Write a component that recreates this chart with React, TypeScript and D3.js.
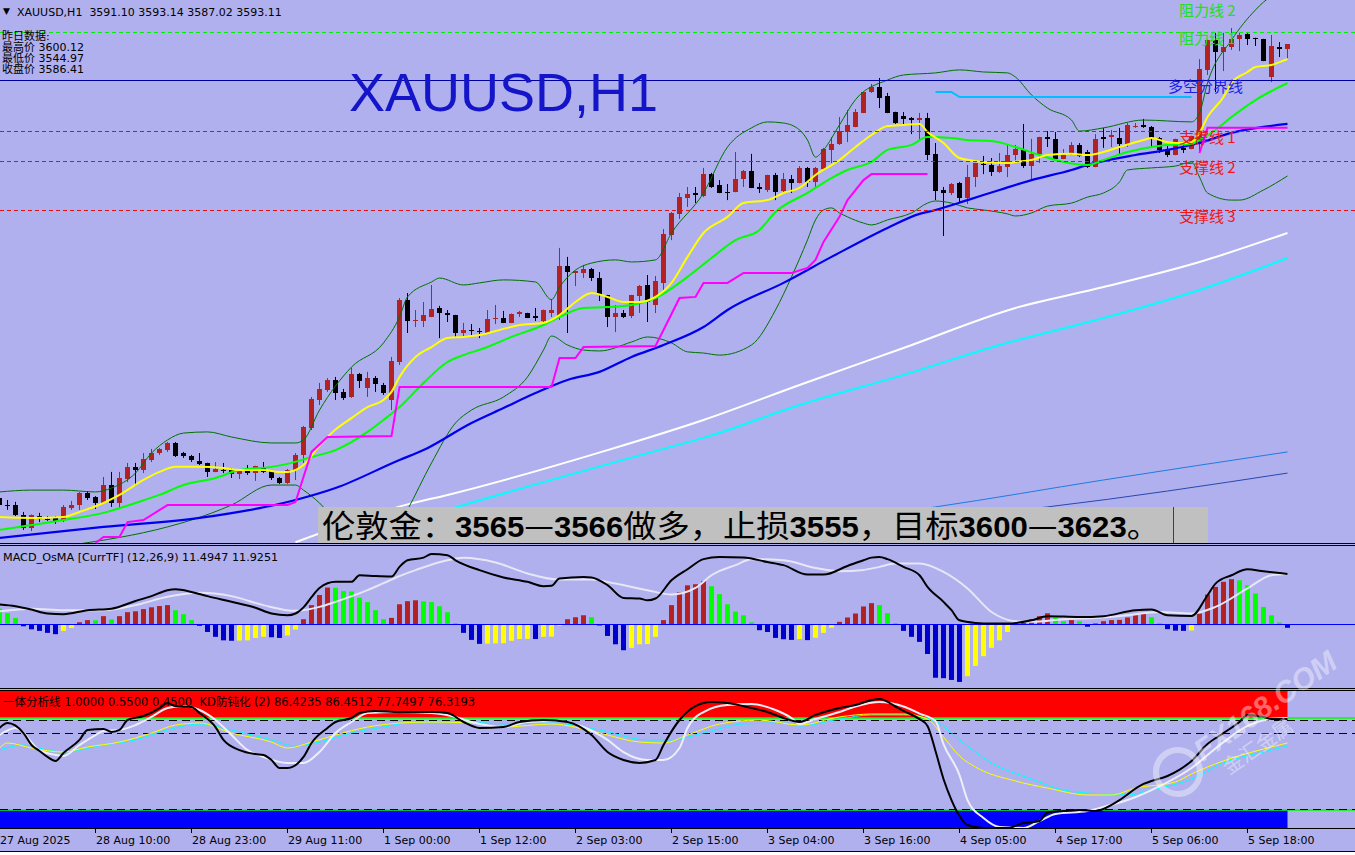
import React from "react";
import * as d3 from "d3";

type Pt = [number, number];

// ---------------- DATA ----------------
const SYMBOL = "XAUUSD,H1";
const LAST_OHLC = ["3591.10", "3593.14", "3587.02", "3593.11"];
const PREV_DAY_TITLE = "昨日数据:";
const PREV_DAY_LABELS = ["最高价", "最低价", "收盘价"];
const PREV_DAY_VALUES = ["3600.12", "3544.97", "3586.41"];

const TICK_BARS = [0, 12, 24, 36, 48, 60, 72, 84, 96, 108, 120, 132, 144, 156];
const TICK_LABELS = [
  "27 Aug 2025", "28 Aug 10:00", "28 Aug 23:00", "29 Aug 11:00", "1 Sep 00:00", "1 Sep 12:00",
  "2 Sep 03:00", "2 Sep 15:00", "3 Sep 04:00", "3 Sep 16:00", "4 Sep 05:00", "4 Sep 17:00",
  "5 Sep 06:00", "5 Sep 18:00",
];

const openP = [
  3395.8, 3392.7, 3392.7, 3388.4, 3382.7, 3387.9, 3386.6, 3387.1, 3386.2, 3391.4,
  3392.7, 3397.9, 3396.2, 3393.6, 3401.4, 3393.6, 3404.0, 3409.3, 3407.9, 3412.3,
  3415.3, 3416.6, 3419.7, 3415.3, 3414.0, 3411.9, 3411.0, 3407.1, 3407.9, 3407.9,
  3406.2, 3407.5, 3406.6, 3409.3, 3407.5, 3404.5, 3402.3, 3407.9, 3414.5, 3426.2,
  3438.4, 3442.7, 3447.1, 3441.9, 3439.7, 3449.7, 3443.6, 3447.9, 3444.9, 3438.4,
  3454.9, 3481.9, 3472.7, 3472.7, 3474.5, 3478.4, 3476.2, 3475.3, 3467.5, 3468.8,
  3468.4, 3467.5, 3473.6, 3474.0, 3471.9, 3475.8, 3476.2, 3474.9, 3472.7, 3476.2,
  3474.5, 3496.6, 3493.6, 3493.6, 3495.3, 3491.4, 3484.0, 3474.5, 3476.2, 3474.9,
  3483.6, 3488.4, 3479.7, 3489.3, 3510.1, 3519.3, 3526.2, 3528.4, 3527.1, 3536.6,
  3531.9, 3528.8, 3528.8, 3534.5, 3537.9, 3531.0, 3529.7, 3536.2, 3529.3, 3534.5,
  3532.7, 3539.3, 3533.2, 3538.8, 3547.1, 3549.7, 3554.9, 3557.1, 3563.2, 3572.3,
  3574.5, 3570.6, 3563.6, 3561.9, 3561.0, 3560.1, 3561.0, 3545.4, 3529.7, 3528.4,
  3532.7, 3526.2, 3535.3, 3541.0, 3540.6, 3537.5, 3539.7, 3544.9, 3547.1, 3540.1,
  3545.4, 3552.7, 3551.9, 3543.2, 3545.4, 3549.3, 3546.2, 3539.7, 3552.7, 3552.7,
  3552.3, 3549.7, 3557.3, 3558.0, 3557.1, 3552.3, 3547.5, 3544.9, 3548.0, 3547.5,
  3549.7, 3581.9, 3594.9, 3589.7, 3591.9, 3595.3, 3597.5, 3595.8, 3595.3, 3578.8,
  3591.9, 3591.1,
];
const highP = [
  3397.1, 3394.9, 3394.1, 3389.7, 3388.6, 3389.3, 3387.9, 3387.9, 3392.7, 3394.5,
  3398.4, 3398.8, 3396.6, 3404.9, 3407.1, 3407.1, 3411.0, 3411.0, 3415.3, 3417.1,
  3417.5, 3420.1, 3420.1, 3415.8, 3414.5, 3415.3, 3411.1, 3411.4, 3411.0, 3408.8,
  3407.9, 3410.1, 3409.8, 3411.4, 3407.9, 3404.9, 3408.4, 3415.3, 3427.1, 3439.7,
  3445.8, 3447.9, 3448.4, 3443.2, 3452.3, 3450.1, 3450.6, 3448.8, 3445.8, 3457.1,
  3482.7, 3484.9, 3477.5, 3481.0, 3488.4, 3479.3, 3477.5, 3475.4, 3471.9, 3471.4,
  3469.7, 3477.5, 3479.7, 3477.1, 3476.0, 3477.1, 3476.3, 3478.4, 3477.7, 3482.3,
  3504.5, 3500.6, 3494.6, 3497.1, 3495.8, 3494.0, 3484.1, 3479.7, 3477.5, 3484.1,
  3488.4, 3492.7, 3492.3, 3512.7, 3520.1, 3528.4, 3531.0, 3531.0, 3539.3, 3537.1,
  3534.0, 3532.3, 3546.2, 3538.4, 3545.4, 3532.7, 3536.3, 3537.1, 3537.1, 3536.2,
  3540.1, 3539.7, 3539.7, 3548.0, 3552.7, 3561.4, 3564.5, 3564.9, 3572.4, 3575.8,
  3578.4, 3571.9, 3563.7, 3563.6, 3561.4, 3563.2, 3563.2, 3550.1, 3531.0, 3532.7,
  3533.2, 3540.6, 3541.5, 3544.5, 3543.6, 3545.8, 3549.3, 3549.3, 3558.4, 3551.9,
  3552.8, 3555.3, 3554.9, 3547.5, 3550.5, 3550.1, 3547.1, 3554.0, 3556.7, 3555.8,
  3556.7, 3558.8, 3558.8, 3560.6, 3557.5, 3552.7, 3549.3, 3552.0, 3550.5, 3553.3,
  3586.6, 3595.0, 3598.0, 3598.0, 3600.12, 3598.0, 3598.0, 3595.9, 3595.4, 3597.1,
  3594.0, 3593.14,
];
const lowP = [
  3391.4, 3390.6, 3387.9, 3381.9, 3381.4, 3385.3, 3385.8, 3384.5, 3385.3, 3390.6,
  3390.6, 3394.9, 3391.0, 3393.5, 3391.9, 3391.4, 3402.7, 3401.0, 3406.6, 3411.4,
  3414.5, 3415.8, 3413.6, 3413.2, 3411.4, 3410.1, 3404.9, 3407.0, 3406.6, 3404.5,
  3404.0, 3405.8, 3403.2, 3406.6, 3403.6, 3401.9, 3401.9, 3403.6, 3411.0, 3425.3,
  3436.2, 3441.9, 3438.4, 3438.4, 3439.3, 3443.6, 3439.7, 3441.9, 3440.6, 3434.0,
  3453.6, 3467.5, 3470.1, 3470.1, 3474.4, 3465.3, 3472.3, 3465.8, 3465.8, 3465.8,
  3465.3, 3467.1, 3471.4, 3471.8, 3471.8, 3474.5, 3474.0, 3472.7, 3472.3, 3474.5,
  3473.2, 3467.5, 3487.9, 3491.4, 3490.1, 3481.4, 3470.1, 3467.9, 3474.0, 3474.0,
  3476.2, 3472.3, 3476.2, 3486.2, 3507.9, 3517.1, 3522.3, 3524.0, 3526.6, 3530.6,
  3528.3, 3525.3, 3528.7, 3531.0, 3530.5, 3528.4, 3528.8, 3525.3, 3528.8, 3528.4,
  3532.6, 3531.0, 3531.0, 3538.7, 3541.4, 3549.3, 3550.5, 3557.0, 3563.1, 3571.9,
  3565.3, 3563.1, 3558.4, 3558.0, 3554.0, 3551.4, 3542.7, 3525.3, 3509.7, 3527.5,
  3524.0, 3523.6, 3531.0, 3536.6, 3535.8, 3537.1, 3535.3, 3542.7, 3539.3, 3534.0,
  3541.4, 3548.4, 3542.3, 3543.1, 3544.9, 3544.0, 3539.3, 3539.6, 3548.0, 3548.4,
  3544.9, 3548.4, 3556.7, 3556.7, 3548.0, 3545.8, 3544.0, 3544.8, 3545.8, 3547.4,
  3545.8, 3579.7, 3572.3, 3581.4, 3590.6, 3590.1, 3592.7, 3592.3, 3585.7, 3576.6,
  3587.5, 3587.02,
];
const closeP = [
  3392.7, 3392.6, 3388.4, 3382.7, 3388.4, 3386.6, 3386.5, 3385.8, 3391.9, 3392.7,
  3397.9, 3395.8, 3393.6, 3401.4, 3393.6, 3404.5, 3409.3, 3407.9, 3412.7, 3415.3,
  3417.1, 3419.7, 3414.0, 3414.0, 3412.3, 3410.6, 3407.1, 3408.4, 3407.8, 3406.2,
  3407.5, 3406.6, 3409.7, 3407.1, 3404.5, 3402.3, 3407.9, 3414.5, 3426.6, 3438.8,
  3443.2, 3447.1, 3441.4, 3439.3, 3449.7, 3446.6, 3447.9, 3445.3, 3441.4, 3455.3,
  3481.9, 3472.7, 3473.2, 3475.3, 3477.9, 3476.2, 3475.3, 3467.5, 3468.8, 3468.4,
  3468.3, 3473.6, 3474.0, 3471.9, 3475.8, 3476.6, 3474.1, 3474.0, 3477.5, 3477.5,
  3496.6, 3494.0, 3494.5, 3495.3, 3491.4, 3484.0, 3474.5, 3476.2, 3474.5, 3484.0,
  3487.9, 3481.0, 3490.1, 3510.6, 3519.7, 3526.6, 3527.9, 3527.5, 3536.6, 3531.0,
  3528.4, 3528.7, 3534.5, 3537.9, 3530.6, 3530.1, 3536.2, 3528.8, 3534.5, 3532.7,
  3539.3, 3533.2, 3539.3, 3547.5, 3549.7, 3555.3, 3558.0, 3563.6, 3572.3, 3574.5,
  3569.7, 3563.2, 3558.8, 3560.6, 3560.1, 3561.0, 3544.9, 3529.3, 3528.4, 3532.3,
  3526.2, 3535.3, 3541.4, 3540.6, 3537.5, 3540.1, 3544.9, 3547.5, 3540.1, 3545.4,
  3552.7, 3551.9, 3543.2, 3545.4, 3549.3, 3544.5, 3539.7, 3551.9, 3551.9, 3553.6,
  3549.7, 3558.0, 3557.5, 3557.1, 3552.3, 3547.1, 3544.9, 3551.9, 3547.1, 3553.2,
  3582.3, 3594.9, 3589.7, 3591.9, 3595.3, 3597.1, 3595.3, 3595.3, 3585.8, 3592.3,
  3591.0, 3593.11,
];

// moving averages [bar, price]
const maFast: Pt[] = [
  [0, 3387.5], [4, 3387.1], [8, 3387.5], [10, 3389.7], [13, 3393.6], [15, 3397.1], [18, 3403.6],
  [20, 3407.1], [22, 3409.3], [25, 3409.3], [28, 3408.8], [30, 3407.9], [33, 3407.9], [35, 3407.1],
  [36, 3407.1], [38, 3410.1], [40, 3418.4], [42, 3425.5], [44, 3430.5], [46, 3435.3], [48, 3438.4],
  [49, 3441.9], [50, 3448.4], [52, 3457.1], [54, 3461.4], [56, 3465.3], [58, 3465.8], [60, 3466.6],
  [63, 3469.3], [65, 3471.0], [68, 3471.9], [70, 3475.3], [72, 3481.0], [74, 3484.9], [76, 3483.2],
  [78, 3481.0], [80, 3481.0], [82, 3483.2], [84, 3489.3], [86, 3500.6], [88, 3511.0], [91, 3518.0],
  [93, 3524.0], [96, 3525.3], [98, 3528.4], [100, 3530.6], [102, 3536.2], [105, 3542.7],
  [107, 3548.4], [109, 3553.6], [111, 3557.5], [113, 3558.0], [115, 3558.4], [116, 3554.9],
  [118, 3550.1], [120, 3543.6], [123, 3541.9], [126, 3541.4], [127, 3541.9], [129, 3542.7],
  [131, 3544.9], [134, 3545.4], [136, 3544.9], [138, 3546.2], [140, 3548.4], [143, 3551.4],
  [144, 3552.3], [146, 3550.5], [148, 3550.1], [149, 3550.5], [150, 3554.5], [151, 3561.4],
  [153, 3570.1], [154, 3576.2], [156, 3581.0], [157, 3583.2], [159, 3584.0], [160, 3585.3],
  [161, 3586.6],
];
const maMid: Pt[] = [
  [0, 3381.9], [4, 3384.0], [8, 3386.2], [13, 3389.3], [17, 3393.6], [20, 3397.1], [23, 3401.4],
  [27, 3404.5], [30, 3407.9], [34, 3409.3], [36, 3410.6], [39, 3413.6], [42, 3416.6], [46, 3424.5],
  [48, 3429.7], [50, 3435.3], [53, 3445.8], [56, 3454.9], [58, 3457.9], [61, 3461.4], [64, 3465.8],
  [68, 3471.0], [70, 3474.5], [73, 3478.4], [76, 3478.8], [79, 3479.7], [82, 3482.7], [86, 3491.9],
  [89, 3500.1], [92, 3507.9], [95, 3512.3], [97, 3520.1], [101, 3528.4], [104, 3534.9],
  [106, 3538.4], [109, 3541.9], [111, 3547.1], [114, 3549.3], [116, 3552.7], [119, 3552.3],
  [121, 3551.4], [124, 3551.0], [127, 3548.4], [130, 3544.9], [133, 3541.9], [136, 3540.6],
  [138, 3542.7], [141, 3546.2], [144, 3548.4], [146, 3549.3], [149, 3549.7], [150, 3551.4],
  [152, 3555.8], [154, 3561.4], [157, 3568.8], [161, 3576.2],
];
const maSlow: Pt[] = [
  [0, 3378.4], [13, 3383.2], [25, 3387.1], [37, 3394.9], [42, 3400.1], [50, 3412.3], [53, 3416.6],
  [59, 3428.4], [63, 3434.9], [67, 3441.4], [71, 3447.1], [75, 3450.6], [79, 3457.1], [83, 3462.3],
  [88, 3470.1], [91, 3477.5], [98, 3489.3], [104, 3500.6], [111, 3513.2], [115, 3519.3],
  [117, 3521.0], [121, 3525.3], [125, 3529.7], [129, 3534.0], [134, 3538.4], [136, 3540.6],
  [142, 3544.9], [146, 3547.1], [150, 3550.1], [154, 3554.5], [158, 3557.1], [161, 3558.4],
];
const maLongWhite: Pt[] = [
  [37, 3376.5], [51, 3393.0], [56, 3397.1], [76, 3416.6], [88, 3429.7], [100, 3444.9],
  [113, 3461.0], [127, 3478.4], [138, 3487.5], [150, 3498.4], [161, 3511.0],
];
const maLongCyan: Pt[] = [
  [40, 3374.0], [58, 3392.7], [84, 3418.1], [88, 3421.9], [100, 3436.2], [113, 3449.3],
  [125, 3462.3], [138, 3474.0], [150, 3486.2], [161, 3500.1],
];
const maLongBlueA: Pt[] = [[100, 3384.0], [117, 3391.9], [138, 3403.6], [161, 3415.8]];
const maLongBlueB: Pt[] = [[110, 3384.5], [131, 3391.9], [161, 3406.6]];

const bbUpper: Pt[] = [
  [0, 3398.4], [4, 3399.2], [8, 3399.2], [12, 3398.4], [14, 3400.1], [17, 3406.6], [19, 3415.3],
  [21, 3421.0], [23, 3424.0], [26, 3424.5], [29, 3422.3], [34, 3419.7], [37, 3419.7], [38, 3421.0],
  [40, 3434.0], [44, 3452.7], [48, 3463.2], [50, 3474.5], [51, 3483.2], [54, 3489.7], [55, 3491.4],
  [58, 3488.4], [60, 3489.3], [63, 3490.6], [67, 3489.7], [69, 3482.0], [70, 3487.5], [72, 3494.9],
  [74, 3497.9], [77, 3499.3], [79, 3498.4], [82, 3499.3], [84, 3511.0], [88, 3528.4], [91, 3548.4],
  [94, 3556.7], [96, 3559.3], [98, 3558.8], [100, 3555.8], [101, 3551.4], [102, 3544.0],
  [103, 3547.1], [105, 3558.0], [107, 3569.0], [111, 3577.5], [113, 3579.7], [117, 3580.6],
  [120, 3581.9], [123, 3581.0], [126, 3580.6], [127, 3578.8], [129, 3571.0], [131, 3565.3],
  [134, 3560.1], [135, 3555.3], [138, 3556.7], [143, 3560.1], [149, 3559.3], [150, 3563.2],
  [151, 3576.2], [154, 3594.9], [157, 3608.0], [158, 3611.4], [161, 3616.6],
];
const bbLower: Pt[] = [
  [9, 3375.3], [21, 3383.2], [24, 3386.2], [29, 3392.7], [34, 3401.4], [37, 3401.4], [38, 3399.2],
  [40, 3393.6], [42, 3386.2], [46, 3379.7], [49, 3378.0], [51, 3390.6], [54, 3411.0], [57, 3428.4],
  [59, 3434.0], [63, 3439.7], [66, 3448.4], [68, 3460.1], [69, 3466.2], [71, 3462.3], [73, 3460.1],
  [75, 3459.7], [79, 3463.6], [81, 3465.8], [84, 3463.2], [86, 3459.3], [88, 3458.8], [90, 3457.9],
  [94, 3462.3], [97, 3477.5], [99, 3491.9], [101, 3508.0], [102, 3516.7], [103, 3521.0],
  [104, 3521.9], [105, 3519.7], [106, 3518.0], [108, 3515.3], [109, 3514.5], [111, 3516.7],
  [114, 3519.7], [116, 3524.0], [117, 3524.9], [119, 3524.0], [121, 3521.9], [123, 3521.0],
  [126, 3519.3], [127, 3518.4], [129, 3519.7], [131, 3522.7], [134, 3524.0], [136, 3526.6],
  [138, 3528.4], [140, 3533.2], [141, 3538.4], [144, 3539.3], [147, 3540.1], [149, 3541.9],
  [150, 3535.3], [151, 3528.4], [154, 3525.3], [155, 3525.3], [158, 3529.7], [161, 3535.8],
];
const stopLineA: Pt[] = [
  [12, 3376.2], [13, 3378.8], [15, 3378.8], [16, 3385.3], [18, 3386.2], [21, 3392.7], [36, 3392.7],
  [37, 3394.0], [39, 3415.8], [41, 3422.3], [49, 3422.7], [50, 3444.0], [69, 3444.0], [70, 3456.6],
  [72, 3456.6], [73, 3461.4], [82, 3461.9], [85, 3482.7], [87, 3483.2], [88, 3489.3], [91, 3489.3],
  [93, 3493.6], [99, 3493.6], [101, 3495.8], [102, 3499.3], [103, 3507.1], [105, 3518.0],
  [106, 3525.3], [108, 3534.0], [109, 3536.6], [116, 3536.6],
];
const stopLineB: Pt[] = [[150, 3545.8], [151, 3556.7], [161, 3556.7]];
const pivotLine: Pt[] = [[117, 3572.3], [119, 3572.3], [120, 3570.1], [149, 3570.1]];

const LEVEL_NAMES = ["阻力线 2", "阻力线 1", "多空分界线", "支撑线 1", "支撑线 2", "支撑线 3"];
const LEVEL_PRICES = [3611.4, 3598.4, 3577.5, 3555.3, 3542.3, 3521.0];

const ADVICE = [
  ["伦敦金：", 0], ["3565", 1], ["—", 0], ["3566", 1], ["做多，止损", 0], ["3555", 1],
  ["，目标", 0], ["3600", 1], ["—", 0], ["3623", 1], ["。", 0],
] as [string, number][];

const WATERMARK = ["FX168.COM", "金汇金属"];

// MACD
const MACD_TITLE = "MACD_OsMA [CurrTF] (12,26,9) 11.4947 11.9251";
const macdHist = [
  3.6, 2.6, 1.5, -0.4, -1.1, -1.45, -1.9, -2.2, -1.45, -0.8,
  0.5, 1.0, 0.95, 1.9, 1.15, 1.9, 2.8, 3.0, 3.5, 3.9,
  4.2, 4.4, 3.25, 2.35, 1.0, -0.3, -1.7, -2.8, -3.6, -3.7,
  -3.65, -3.6, -3.05, -2.8, -2.9, -3.05, -2.5, -1.15, 1.2, 4.4,
  6.7, 8.4, 8.35, 7.6, 7.5, 6.1, 5.1, 3.25, 1.2, 1.5,
  4.6, 5.3, 5.5, 5.25, 5.1, 4.15, 2.8, 0.3, -1.9, -3.5,
  -4.4, -4.35, -4.3, -4.25, -3.7, -3.3, -3.25, -3.3, -2.8, -2.75,
  -0.3, 1.2, 1.65, 2.1, 1.65, -0.1, -2.6, -4.5, -5.85, -5.3,
  -4.5, -4.45, -2.8, 1.0, 4.4, 7.3, 8.9, 9.15, 9.85, 8.7,
  6.9, 4.6, 2.95, 2.1, 0.5, -1.3, -1.7, -3.05, -3.35, -3.5,
  -3.3, -3.55, -3.0, -1.9, -0.75, 0.6, 1.6, 2.5, 4.1, 4.85,
  4.4, 2.6, 0.3, -1.45, -2.8, -3.95, -6.7, -12.1, -12.2, -12.6,
  -13.05, -11.75, -9.4, -7.2, -5.3, -3.6, -1.7, 0.1, 0.45, 1.2,
  1.9, 2.55, 1.5, 0.75, 1.0, 0.75, -0.5, 0.25, 0.75, 1.0,
  1.05, 1.6, 2.1, 2.5, 1.65, 0.3, -1.05, -1.4, -1.45, -1.35,
  2.5, 6.8, 8.55, 9.7, 10.3, 10.05, 8.9, 7.05, 4.0, 2.1,
  0.45, -0.75,
];
const macdMain: Pt[] = [
  [0, 4.55], [2, 4.15], [4, 3.4], [6, 2.5], [8, 2.35], [11, 3.25], [14, 3.6], [17, 5.35], [19, 6.45],
  [21, 7.8], [22, 8.0], [24, 7.4], [26, 6.45], [29, 5.15], [32, 3.8], [34, 2.5], [36, 2.1], [37, 2.5],
  [38, 3.9], [39, 6.2], [40, 8.3], [42, 9.7], [44, 9.7], [45, 11.2], [47, 11.0], [49, 10.9],
  [50, 13.1], [51, 14.6], [53, 15.2], [54, 16.0], [56, 15.75], [57, 14.6], [60, 12.35], [63, 10.7],
  [66, 9.7], [68, 8.7], [69, 8.8], [70, 10.45], [73, 10.8], [74, 10.7], [76, 8.95], [78, 6.05],
  [80, 5.9], [81, 5.5], [82, 5.9], [84, 10.05], [86, 12.55], [88, 14.85], [90, 15.35], [93, 15.2],
  [96, 14.2], [98, 13.5], [101, 11.35], [103, 11.35], [106, 13.3], [108, 14.6], [109, 15.2],
  [110, 15.35], [111, 14.85], [113, 13.1], [115, 11.2], [116, 8.55], [118, 5.15], [119, 3.25],
  [120, 0.95], [122, 0.35], [124, 0.2], [126, 0.2], [129, 0.95], [131, 1.9], [135, 1.7], [138, 1.9],
  [142, 3.25], [144, 3.4], [146, 2.1], [149, 1.95], [151, 6.65], [152, 9.3], [154, 11.2],
  [156, 12.55], [158, 12.1], [160, 11.7], [161, 11.49],
];
const macdSignal: Pt[] = [
  [0, 3.0], [4, 3.6], [8, 3.25], [13, 3.25], [17, 4.4], [21, 6.3], [25, 7.2], [29, 6.45], [33, 4.4],
  [37, 3.1], [40, 4.0], [42, 5.15], [46, 7.8], [48, 9.4], [50, 11.0], [52, 12.35], [56, 14.6],
  [58, 15.15], [62, 14.1], [66, 11.6], [70, 10.2], [74, 10.2], [77, 9.3], [81, 7.8], [84, 6.8],
  [87, 8.3], [89, 11.2], [92, 13.5], [94, 14.85], [98, 14.6], [102, 12.85], [105, 12.1], [108, 12.4],
  [110, 13.1], [112, 13.85], [115, 13.85], [118, 11.95], [121, 8.2], [124, 2.85], [127, 0.75],
  [129, 0.6], [133, 1.2], [137, 1.5], [141, 2.1], [145, 2.85], [149, 2.5], [152, 4.0], [156, 8.2],
  [159, 11.2], [161, 11.45],
];

// KD panel
const KD_TITLE = "一体分析线 1.0000 0.5500 0.4500  KD防钝化 (2) 86.4235 86.4512 77.7497 76.3193";
const KD_ZONE_HIGH = 80;
const KD_ZONE_LOW = 20;
const KD_DASH_LEVELS = [78.7, 70.2, 20.6];
const kdK: Pt[] = [
  [0, 73.5], [1, 76.7], [3, 70.2], [4, 62.4], [5, 58.5], [6, 54.6], [7, 52.0], [8, 57.2], [10, 65.7],
  [11, 72.2], [13, 72.8], [14, 70.9], [15, 72.2], [16, 78.7], [18, 81.3], [20, 86.5], [21, 89.8],
  [22, 87.8], [24, 87.2], [25, 83.3], [27, 74.1], [28, 65.7], [30, 59.1], [32, 56.5], [33, 55.9],
  [34, 52.6], [35, 47.4], [36, 47.4], [38, 54.6], [39, 63.7], [41, 73.5], [42, 77.4], [44, 80.0],
  [45, 83.3], [47, 84.6], [50, 83.9], [54, 83.9], [56, 83.3], [58, 77.4], [60, 73.5], [63, 74.1],
  [65, 77.4], [68, 78.7], [71, 77.4], [74, 68.9], [76, 57.8], [78, 52.6], [80, 50.7], [82, 52.6],
  [83, 62.4], [85, 78.7], [87, 87.8], [89, 90.4], [91, 89.8], [94, 86.5], [96, 83.9], [98, 80.0],
  [100, 77.4], [102, 82.0], [105, 86.5], [107, 88.5], [109, 91.7], [110, 92.4], [112, 87.5],
  [113, 84.6], [115, 79.3], [116, 74.8], [117, 58.5], [118, 40.2], [119, 26.5], [120, 16.1],
  [121, 10.2], [123, 8.3], [126, 8.3], [128, 11.5], [130, 12.8], [131, 18.4], [133, 19.3],
  [135, 20.0], [137, 19.3], [139, 23.3], [140, 26.5], [143, 37.0], [144, 38.9], [146, 42.2],
  [149, 52.0], [151, 63.0], [153, 70.2], [155, 77.4], [156, 82.0], [158, 80.7], [159, 79.3],
  [161, 79.3],
];
const kdD: Pt[] = [
  [0, 68.9], [2, 73.5], [5, 59.1], [7, 55.9], [8, 55.2], [10, 62.4], [12, 68.9], [13, 71.5],
  [15, 72.2], [17, 75.4], [19, 80.7], [21, 86.5], [23, 87.8], [25, 85.2], [27, 78.7], [29, 68.9],
  [31, 59.1], [33, 54.6], [36, 50.7], [38, 50.7], [40, 57.8], [42, 70.2], [44, 77.4], [46, 83.3],
  [50, 83.9], [54, 83.3], [57, 80.7], [59, 77.4], [63, 74.1], [66, 77.4], [70, 78.0], [73, 74.1],
  [76, 65.7], [78, 57.8], [81, 52.6], [83, 52.6], [85, 60.4], [86, 73.5], [88, 83.9], [91, 88.5],
  [94, 89.1], [97, 85.2], [99, 80.0], [100, 76.1], [102, 79.3], [105, 83.9], [107, 87.5],
  [110, 90.4], [113, 87.5], [115, 82.9], [117, 78.0], [118, 63.0], [120, 42.8], [121, 26.5],
  [123, 14.8], [125, 8.9], [128, 8.3], [130, 12.8], [132, 17.4], [136, 19.3], [138, 22.0],
  [141, 26.5], [144, 33.0], [149, 47.4], [153, 64.3], [156, 74.8], [159, 79.3], [161, 80.0],
];
const kdSlowA: Pt[] = [
  [0, 60.4], [1, 63.7], [4, 60.4], [8, 57.8], [11, 61.1], [15, 64.3], [19, 70.2], [22, 75.4],
  [25, 76.7], [29, 70.2], [34, 64.3], [36, 60.4], [39, 64.3], [42, 68.9], [46, 74.1], [50, 76.7],
  [54, 77.4], [59, 76.7], [63, 74.1], [69, 76.1], [75, 70.2], [80, 64.3], [83, 63.7], [86, 68.9],
  [90, 76.1], [95, 78.7], [100, 75.4], [105, 80.7], [109, 82.6], [113, 82.6], [116, 79.3],
  [118, 67.6], [120, 55.2], [122, 48.0], [127, 38.9], [131, 34.3], [136, 29.8], [139, 29.8],
  [142, 34.3], [147, 38.3], [149, 43.5], [153, 52.0], [158, 59.8], [161, 63.7],
];
const kdSlowB: Pt[] = [
  [0, 59.1], [3, 62.4], [6, 59.1], [8, 57.8], [13, 62.4], [17, 65.7], [21, 72.2], [25, 76.1],
  [29, 72.2], [34, 65.7], [37, 61.7], [40, 64.3], [44, 70.2], [48, 74.1], [52, 77.4], [56, 77.4],
  [61, 76.7], [63, 76.1], [69, 76.7], [75, 72.2], [81, 65.7], [84, 65.7], [88, 70.2], [93, 76.1],
  [98, 76.7], [100, 74.8], [105, 79.3], [109, 82.0], [113, 82.0], [117, 78.0], [120, 65.7],
  [124, 50.7], [129, 40.2], [133, 33.0], [138, 30.4], [141, 29.8], [144, 33.0], [149, 40.2],
  [153, 50.7], [158, 57.8], [161, 61.7],
];

// ---------------- LAYOUT ----------------
const W = 1355;
const H = 855;
const BG = "#b0b0ee";
const MAIN_BOTTOM = 543;
const MACD_TOP = 546;
const MACD_BOTTOM = 688;
const KD_TOP = 691;
const KD_BOTTOM = 828;
const FONT = "'DejaVu Sans', 'Noto Sans CJK SC', sans-serif";
const CJK = "'Noto Sans CJK SC', sans-serif";

const nBars = openP.length;
const xs = d3.scaleLinear().domain([0, nBars - 1]).range([-0.5, 8 * (nBars - 1) - 0.5]);
const yMain = d3.scaleLinear().domain([3376.2, 3612.3]).range([MAIN_BOTTOM, 0]);
const yMacd = d3.scaleLinear().domain([0, 10]).range([624.5, 580.5]);
const yKd = d3.scaleLinear().domain([KD_ZONE_LOW, KD_ZONE_HIGH]).range([810, 718]);

const mkLine = (ys: d3.ScaleLinear<number, number>, curve: any = d3.curveMonotoneX) =>
  d3.line<Pt>().x((d) => xs(d[0])).y((d) => ys(d[1])).curve(curve);

const mainCurve = mkLine(yMain);
const mainLinear = mkLine(yMain, d3.curveLinear);
const macdCurve = mkLine(yMacd);
const kdCurve = mkLine(yKd);

const crisp = (v: number) => Math.round(v) + 0.5;

function histColor(i: number) {
  const v = macdHist[i];
  const prev = i > 0 ? macdHist[i - 1] : v + 1;
  if (v >= 0) return v >= prev ? "#b22222" : "#00ff00";
  return v < prev ? "#0000cd" : "#ffff00";
}

export default function App() {
  const lastX = xs(nBars - 1);
  return (
    <svg
      width={W}
      height={H}
      viewBox={`0 0 ${W} ${H}`}
      style={{ position: "absolute", left: 0, top: 0, display: "block" }}
    >
      <defs>
        <clipPath id="clipMain"><rect x={0} y={0} width={W} height={MAIN_BOTTOM} /></clipPath>
        <clipPath id="clipMacd"><rect x={0} y={MACD_TOP + 1} width={W} height={MACD_BOTTOM - MACD_TOP - 1} /></clipPath>
        <clipPath id="clipKd"><rect x={0} y={KD_TOP} width={W} height={KD_BOTTOM - KD_TOP} /></clipPath>
      </defs>
      <rect x={0} y={0} width={W} height={H} fill={BG} />

      {/* ---------- MAIN PANEL ---------- */}
      <g clipPath="url(#clipMain)">
        {openP.map((o, i) => {
          const c = closeP[i];
          const up = c > o || (c === o && i % 2 === 0);
          const col = up ? "#b22222" : "#000000";
          const x = xs(i);
          const t = yMain(Math.max(o, c));
          const b = yMain(Math.min(o, c));
          const hgt = Math.max(1, Math.round(b - t));
          return (
            <g key={i}>
              <line x1={x} x2={x} y1={yMain(highP[i])} y2={yMain(lowP[i])} stroke={col} strokeWidth={1} />
              <rect x={x - 2.5} y={Math.round(t)} width={5} height={hgt} fill={col} />
            </g>
          );
        })}

        <path d={mainCurve(maLongBlueB) || ""} fill="none" stroke="#2848b0" strokeWidth={1} />
        <path d={mainCurve(maLongBlueA) || ""} fill="none" stroke="#1e7be0" strokeWidth={1} />
        <path d={mainCurve(maLongCyan) || ""} fill="none" stroke="#00ffff" strokeWidth={2} />
        <path d={mainCurve(maLongWhite) || ""} fill="none" stroke="#ffffff" strokeWidth={2} />

        <path d={mainCurve(bbUpper) || ""} fill="none" stroke="#007000" strokeWidth={1} />
        <path d={mainCurve(bbLower) || ""} fill="none" stroke="#007000" strokeWidth={1} />

        <path d={mainCurve(maSlow) || ""} fill="none" stroke="#0000ee" strokeWidth={2.2} />
        <path d={mainCurve(maMid) || ""} fill="none" stroke="#00ff00" strokeWidth={2} />
        <path d={mainCurve(maFast) || ""} fill="none" stroke="#ffff00" strokeWidth={2} />

        <path d={mainLinear(stopLineA) || ""} fill="none" stroke="#ff00ff" strokeWidth={2} />
        <path d={mainLinear(stopLineB) || ""} fill="none" stroke="#ff00ff" strokeWidth={2} />
        <path d={mainLinear(pivotLine) || ""} fill="none" stroke="#00bfff" strokeWidth={2} />

        {LEVEL_PRICES.map((p, k) => {
          if (k === 0) return null;
          const y = crisp(yMain(p));
          const col = k === 1 ? "#00ee00" : k === 2 ? "#0000a0" : "#e01010";
          return (
            <line key={"lv" + k} x1={0} x2={W} y1={y} y2={y} stroke={col} strokeWidth={1}
              strokeDasharray={k === 2 ? undefined : "4,3"} />
          );
        })}
        {LEVEL_PRICES.map((p, k) => {
          const y = Math.max(16, Math.round(yMain(p)) + 12);
          const col = k <= 1 ? "#22dd22" : k === 2 ? "#1e1ee6" : "#ee1818";
          return (
            <text key={"lt" + k} x={k === 2 ? 1168 : 1179} y={y} fill={col} fontSize={15}
              fontFamily={CJK} style={{ whiteSpace: "pre" }}>{LEVEL_NAMES[k]}</text>
          );
        })}

        <text x={349} y={111} fill="#1414c8" fontSize={54} fontFamily="'Liberation Sans', Arial, sans-serif">
          {SYMBOL}
        </text>

        <text x={3} y={14} fontSize={9} fontFamily={FONT} fill="#000">▼</text>
        <text x={17} y={16} fontSize={11} fontFamily={FONT} fill="#000" style={{ whiteSpace: "pre" }}>
          {SYMBOL + "  " + LAST_OHLC.join(" ")}
        </text>
        <text x={2} y={40} fontSize={11} fontFamily={FONT} fill="#000">{PREV_DAY_TITLE}</text>
        {PREV_DAY_LABELS.map((lab, k) => (
          <text key={"pd" + k} x={2} y={51 + k * 11} fontSize={11} fontFamily={FONT} fill="#000"
            style={{ whiteSpace: "pre" }}>{lab + " " + PREV_DAY_VALUES[k]}</text>
        ))}

        <rect x={318} y={507} width={890} height={37} fill="#c0c0c0" />
        <line x1={1173.5} x2={1173.5} y1={507} y2={543} stroke="#404040" strokeWidth={1} />
        <text x={322} y={537} textLength={838} lengthAdjust="spacingAndGlyphs" fill="#000">
          {ADVICE.map(([s, bold], k) => (
            <tspan key={"ad" + k}
              fontFamily={bold ? "'Liberation Sans', Arial, sans-serif" : CJK}
              fontWeight={bold ? 700 : 400}
              fontSize={bold ? 29 : 31}>{s}</tspan>
          ))}
        </text>
      </g>

      <line x1={0} x2={W} y1={543.5} y2={543.5} stroke="#000" />
      <line x1={0} x2={W} y1={545.5} y2={545.5} stroke="#000" />

      {/* ---------- MACD PANEL ---------- */}
      <g clipPath="url(#clipMacd)">
        {macdHist.map((v, i) => {
          const y0 = yMacd(0);
          const y1 = yMacd(v);
          return (
            <rect key={"h" + i} x={xs(i) - 2.5} y={Math.min(y0, y1)} width={5}
              height={Math.max(1, Math.abs(y1 - y0))} fill={histColor(i)} />
          );
        })}
        <line x1={0} x2={W} y1={yMacd(0)} y2={yMacd(0)} stroke="#0000ff" strokeWidth={1} />
        <path d={macdCurve(macdSignal) || ""} fill="none" stroke="#e6e6f6" strokeWidth={2} />
        <path d={macdCurve(macdMain) || ""} fill="none" stroke="#000" strokeWidth={2} />
        <text x={3} y={561} fontSize={11.2} fontFamily={FONT} fill="#000">{MACD_TITLE}</text>
      </g>
      <line x1={0} x2={W} y1={688.5} y2={688.5} stroke="#000" />
      <line x1={0} x2={W} y1={690.5} y2={690.5} stroke="#000" />

      {/* ---------- KD PANEL ---------- */}
      <g clipPath="url(#clipKd)">
        <rect x={0} y={yKd(100)} width={lastX} height={yKd(KD_ZONE_HIGH) - yKd(100)} fill="#ff0000" />
        <rect x={0} y={yKd(KD_ZONE_LOW)} width={lastX} height={yKd(0) - yKd(KD_ZONE_LOW)} fill="#0000ff" />
        <line x1={0} x2={W} y1={yKd(KD_ZONE_HIGH)} y2={yKd(KD_ZONE_HIGH)} stroke="#00ff00" strokeWidth={1.5} />
        <line x1={0} x2={W} y1={yKd(KD_ZONE_LOW)} y2={yKd(KD_ZONE_LOW)} stroke="#00ff00" strokeWidth={1.5} />
        {KD_DASH_LEVELS.map((lv, k) => (
          <line key={"kdl" + k} x1={0} x2={W} y1={crisp(yKd(lv))} y2={crisp(yKd(lv))}
            stroke="#000" strokeWidth={1} strokeDasharray="8,5" />
        ))}
        <path d={kdCurve(kdSlowB) || ""} fill="none" stroke="#00ffff" strokeWidth={1} />
        <path d={kdCurve(kdSlowA) || ""} fill="none" stroke="#ffff00" strokeWidth={1} />
        <path d={kdCurve(kdD) || ""} fill="none" stroke="#eeeef8" strokeWidth={2} />
        <path d={kdCurve(kdK) || ""} fill="none" stroke="#000" strokeWidth={2} />
        <text x={3} y={706} fontSize={11.5} fontFamily={FONT} fill="#000" style={{ whiteSpace: "pre" }}>
          {KD_TITLE}
        </text>
      </g>
      <line x1={0} x2={W} y1={828.5} y2={828.5} stroke="#000" />

      {/* watermark */}
      <g opacity={0.4} transform="translate(1178,772) rotate(-35)">
        <circle cx={0} cy={0} r={22} fill="none" stroke="#ffffff" strokeWidth={6} />
        <text x={26} y={6} fontSize={30} fontWeight={700} fontStyle="italic" fill="#ffffff"
          fontFamily="'Liberation Sans', Arial, sans-serif">{WATERMARK[0]}</text>
        <text x={40} y={32} fontSize={20} fill="#ffffff" fontFamily={CJK}>{WATERMARK[1]}</text>
      </g>

      {/* ---------- TIME AXIS ---------- */}
      {TICK_BARS.map((b, k) => {
        const x = xs(b);
        return (
          <g key={"t" + k}>
            <line x1={x} x2={x} y1={829} y2={833} stroke="#000" />
            <text x={Math.max(0, x + 0.5)} y={844} fontSize={11} fontFamily={FONT} fill="#000">
              {TICK_LABELS[k]}
            </text>
          </g>
        );
      })}
      <line x1={0} x2={W} y1={851.5} y2={851.5} stroke="#000" />
      <rect x={0} y={852} width={W} height={3} fill="#ffffff" />
    </svg>
  );
}
